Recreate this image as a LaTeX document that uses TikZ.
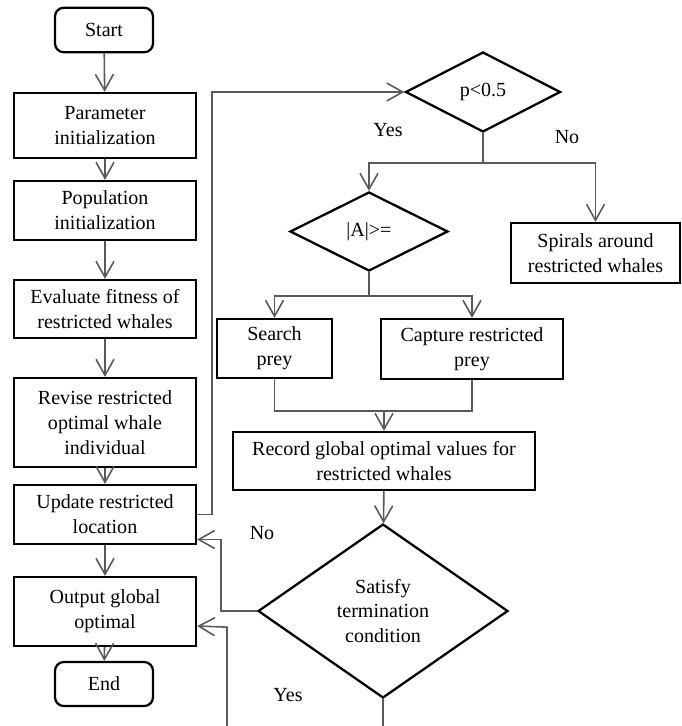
\documentclass[tikz,border=0pt]{standalone}
\usepackage{fontspec}
\setmainfont{Liberation Serif}
\usepackage{tikz}
\usetikzlibrary{arrows.meta,positioning,shapes.geometric}

\begin{document}
\begin{tikzpicture}[
    x=0.02cm, y=-0.02cm,
    box/.style={draw, line width=1.3pt, minimum width=3.64cm, align=center, inner sep=2pt, font=\fontsize{11.4}{14.2}\selectfont},
    term/.style={box, rounded corners=5pt, minimum width=1.96cm, minimum height=0.89cm},
    dia/.style={draw, diamond, line width=1.3pt, aspect=2, inner sep=0pt, align=center, font=\fontsize{11.4}{14.2}\selectfont},
    lbl/.style={font=\fontsize{11.4}{14.2}\selectfont},
    arr/.style={-{Straight Barb[length=3.2mm, width=3.6mm]}, line width=0.9pt, black!65},
    con/.style={line width=0.9pt, black!65}
]
\useasboundingbox (0,0) rectangle (682,726);

% main column
\node[term] (start) at (104,30) {Start};
\node[box, minimum height=1.3cm] (param) at (105,125.5) {Parameter\\initialization};
\node[box, minimum height=1.18cm] (popu) at (105,210.5) {Population\\initialization};
\node[box, minimum height=1.16cm] (evalfit) at (105,309) {Evaluate fitness of\\restricted whales};
\node[box, minimum height=1.78cm] (revise) at (105,422.5) {Revise restricted\\optimal whale\\individual};
\node[box, minimum height=1.18cm] (update) at (105,514.5) {Update restricted\\location};
\node[box, minimum height=1.38cm] (output) at (105,611.5) {Output global\\optimal};
\node[term, minimum height=0.88cm] (end) at (104,684) {End};

% right part
\node[dia, minimum width=3.1cm, minimum height=1.6cm] (pcheck) at (483,92) {p<0.5};
\node[box, minimum width=3.38cm, minimum height=1.2cm] (spiral) at (595.5,253) {Spirals around\\restricted whales};
\node[dia, minimum width=3.16cm, minimum height=1.58cm] (acheck) at (369,231.5) {|A|>=};
\node[box, minimum width=2.3cm, minimum height=1.18cm] (search) at (274.5,348.5) {Search\\prey};
\node[box, minimum width=3.64cm, minimum height=1.2cm] (capture) at (472,349) {Capture restricted\\prey};
\node[box, minimum width=6.04cm, minimum height=1.16cm] (record) at (384,461) {Record global optimal values for\\restricted whales};
\node[dia, minimum width=5cm, minimum height=3.48cm] (satisfy) at (383,611) {Satisfy\\termination\\condition};

\node[lbl] (yesp) at (388,130) {Yes};
\node[lbl] (nop) at (567,137) {No};
\node[lbl] (nos) at (262,533) {No};
\node[lbl] (yess) at (288,695) {Yes};

\draw[arr] (start) -- (param);
\draw[arr] (param) -- (popu);
\draw[arr] (popu) -- (evalfit);
\draw[arr] (evalfit) -- (revise);
\draw[arr] (revise) -- (update);
\draw[arr] (update) -- (output);
\draw[arr] (output) -- (end);

\draw[arr] (update.east) -- ++(15,0) |- (pcheck.west);
\draw[con] (pcheck.south) -- ++(0,30) coordinate (pfork);
\draw[arr] (pfork) -| (acheck.north);
\draw[arr] (pfork) -| (spiral.north);
\draw[con] (acheck.south) -- ++(0,24) coordinate (afork);
\draw[arr] (afork) -| (search.north);
\draw[arr] (afork) -| (capture.north);
\draw[con] (search.south) -- ++(0,32) coordinate (sjoin) -| (capture.south);
\draw[arr] (sjoin -| record.north) -- (record.north);
\draw[arr] (record) -- (satisfy);

\draw[arr] (satisfy.west) -- ++(-36,0) |- ([yshift=-0.5cm]update.east);
\draw[arr] (satisfy.south) -- ++(0,50) -| ++(-156,-122) -- ([yshift=-0.29cm]output.east);
\end{tikzpicture}
\end{document}
